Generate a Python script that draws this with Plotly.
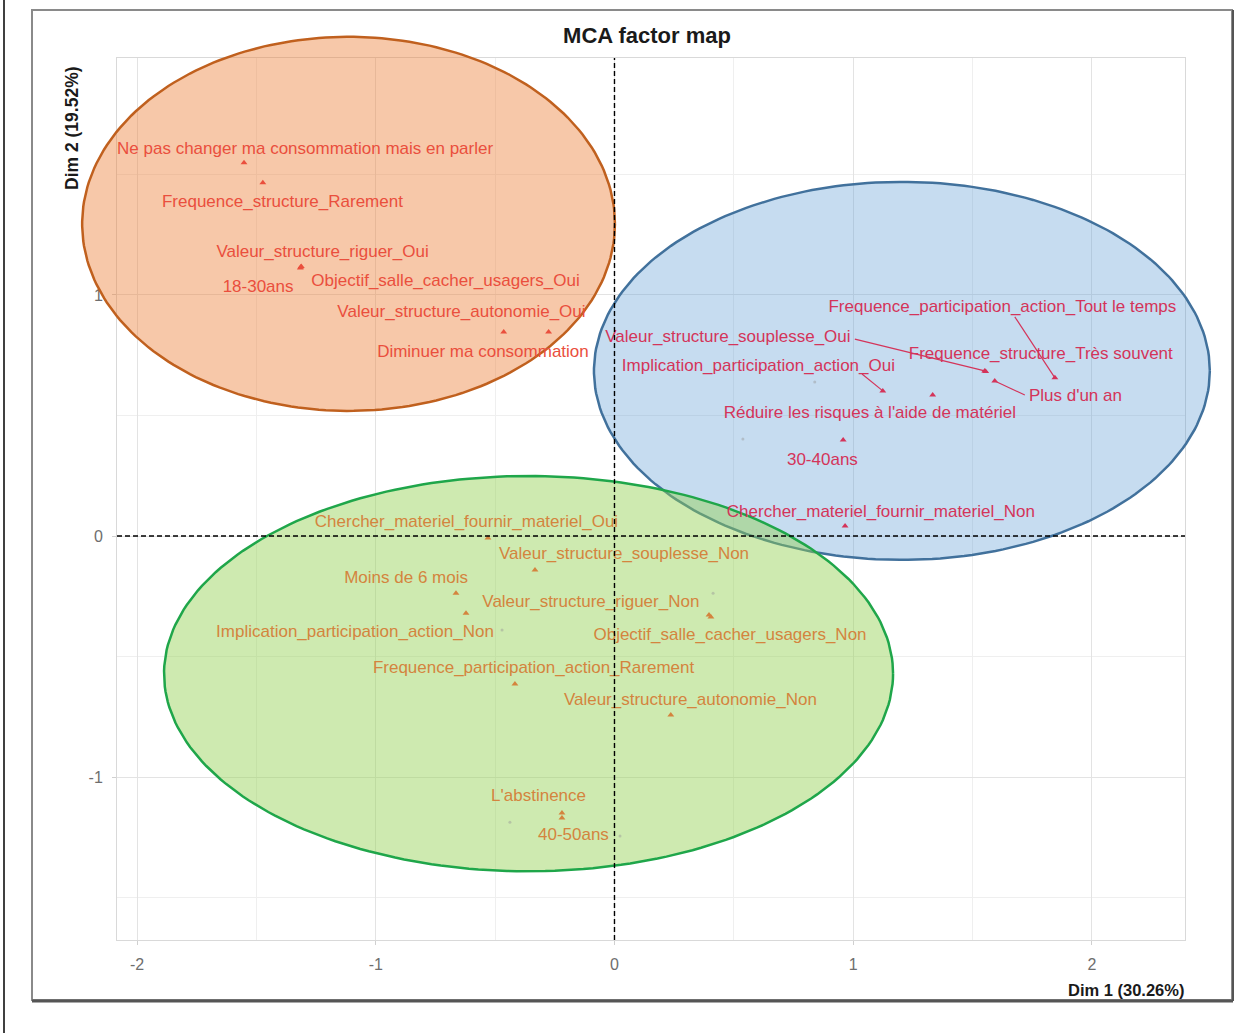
import numpy as np
import plotly.graph_objects as go

# --- données lues sur la carte factorielle (Dim 1, Dim 2) ---
# groupe orange
noms_orange = ["Ne pas changer ma consommation mais en parler", "Frequence_structure_Rarement",
               "Valeur_structure_riguer_Oui", "18-30ans", "Objectif_salle_cacher_usagers_Oui",
               "Valeur_structure_autonomie_Oui", "Diminuer ma consommation"]
x_orange = [-1.552, -1.473, -1.314, -1.316, -1.312, -0.464, -0.276]
y_orange = [1.548, 1.465, 1.116, 1.112, 1.118, 0.846, 0.846]
lx_orange = [-1.296, -1.391, -1.223, -1.493, -0.708, -0.641, -0.551]
ly_orange = [1.602, 1.382, 1.174, 1.029, 1.054, 0.925, 0.759]

# groupe bleu
noms_bleu = ["Frequence_participation_action_Tout le temps", "Valeur_structure_souplesse_Oui",
             "Frequence_structure_Très souvent", "Implication_participation_action_Oui", "Plus d'un an",
             "Réduire les risques à l'aide de matériel", "30-40ans", "Chercher_materiel_fournir_materiel_Non"]
x_bleu = [1.845, 1.551, 1.555, 1.124, 1.593, 1.333, 0.958, 0.966]
y_bleu = [0.656, 0.685, 0.682, 0.602, 0.643, 0.585, 0.398, 0.041]
lx_bleu = [1.625, 0.475, 1.786, 0.603, 1.931, 1.070, 0.871, 1.116]
ly_bleu = [0.946, 0.822, 0.751, 0.701, 0.577, 0.506, 0.311, 0.095]

# segments (ggrepel) : index du point, départ du segment près de l'étiquette
seg_idx = [0, 1, 3, 4]
seg_x0 = [1.677, 1.007, 1.037, 1.719]
seg_y0 = [0.909, 0.817, 0.672, 0.585]

# groupe vert
noms_vert = ["Chercher_materiel_fournir_materiel_Oui", "Valeur_structure_souplesse_Non", "Moins de 6 mois",
             "Valeur_structure_riguer_Non", "Implication_participation_action_Non",
             "Objectif_salle_cacher_usagers_Non", "Frequence_participation_action_Rarement",
             "Valeur_structure_autonomie_Non", "L'abstinence", "40-50ans"]
x_vert = [-0.530, -0.333, -0.664, 0.396, -0.622, 0.404, -0.417, 0.236, -0.220, -0.220]
y_vert = [-0.008, -0.141, -0.237, -0.328, -0.320, -0.336, -0.614, -0.743, -1.149, -1.170]
lx_vert = [-0.620, 0.040, -0.873, -0.099, -1.087, 0.484, -0.339, 0.318, -0.318, -0.172]
ly_vert = [0.054, -0.079, -0.178, -0.278, -0.402, -0.415, -0.552, -0.685, -1.083, -1.245]

# points pâles sans étiquette
x_pale = [0.839, 0.538, 0.413, -0.471, -0.438, 0.023]
y_pale = [0.639, 0.402, -0.237, -0.390, -1.187, -1.245]

# ellipses : centre et demi-axes
ell_cx = [-1.114, 1.204, -0.360]
ell_cy = [1.295, 0.685, -0.571]
ell_ax = [1.116, 1.290, 1.527]
ell_ay = [0.776, 0.784, 0.820]
ell_fill = ["rgba(237,125,49,0.42)", "rgba(91,155,213,0.35)", "rgba(146,208,80,0.45)"]
ell_line = ["#c0601e", "#41719c", "#1fa64a"]

x_ticks = [-2, -1, 0, 1, 2]
y_ticks = [-1, 0, 1]

col_orange = "#ea4f3d"
col_bleu = "#d4345a"
col_vert = "#d4843e"

W, H = 1247, 1033
x_range = [-2.084, 2.390]
y_range = [-1.676, 1.983]
x_dom = [117 / W, 1185 / W]
y_dom = [1 - 940 / H, 1 - 58 / H]

# axes de superposition (toute la figure) à la même échelle, pour que les ellipses débordent du panneau
ppx = (x_dom[1] - x_dom[0]) * W / (x_range[1] - x_range[0])
ppy = (y_dom[1] - y_dom[0]) * H / (y_range[1] - y_range[0])
x2_range = [x_range[0] - x_dom[0] * W / ppx, x_range[1] + (1 - x_dom[1]) * W / ppx]
y2_range = [y_range[0] - y_dom[0] * H / ppy, y_range[1] + (1 - y_dom[1]) * H / ppy]

fig = go.Figure()

# trace invisible pour afficher les axes principaux
fig.add_trace(go.Scatter(x=[0], y=[0], mode="markers", marker=dict(opacity=0), hoverinfo="skip",
                         showlegend=False, xaxis="x", yaxis="y"))

t = np.linspace(0, 2 * np.pi, 240)
for cx, cy, ax, ay, fc, lc in zip(ell_cx, ell_cy, ell_ax, ell_ay, ell_fill, ell_line):
    fig.add_trace(go.Scatter(
        x=cx + ax * np.cos(t), y=cy + ay * np.sin(t),
        mode="lines", fill="toself", fillcolor=fc,
        line=dict(color=lc, width=2.5), hoverinfo="skip", showlegend=False,
        xaxis="x2", yaxis="y2"))

# segments
for i, sx, sy in zip(seg_idx, seg_x0, seg_y0):
    fig.add_trace(go.Scatter(x=[sx, x_bleu[i]], y=[sy, y_bleu[i]], mode="lines",
                             line=dict(color=col_bleu, width=1.2), hoverinfo="skip",
                             showlegend=False, xaxis="x2", yaxis="y2"))

fig.add_trace(go.Scatter(x=x_pale, y=y_pale, mode="markers",
                         marker=dict(color="rgba(150,150,150,0.45)", size=3),
                         hoverinfo="skip", showlegend=False, xaxis="x2", yaxis="y2"))

for xs, ys, lxs, lys, noms, col in [
    (x_orange, y_orange, lx_orange, ly_orange, noms_orange, col_orange),
    (x_bleu, y_bleu, lx_bleu, ly_bleu, noms_bleu, col_bleu),
    (x_vert, y_vert, lx_vert, ly_vert, noms_vert, col_vert),
]:
    fig.add_trace(go.Scatter(x=xs, y=ys, mode="markers",
                             marker=dict(symbol="triangle-up", size=6, color=col),
                             text=noms, hoverinfo="text", showlegend=False,
                             xaxis="x2", yaxis="y2"))
    fig.add_trace(go.Scatter(x=lxs, y=lys, mode="text", text=noms,
                             textposition="middle center",
                             textfont=dict(family="Liberation Sans, Arial, sans-serif", size=17, color=col),
                             hoverinfo="skip", showlegend=False, xaxis="x2", yaxis="y2"))

# lignes pointillées en 0
fig.add_shape(type="line", xref="x", yref="y domain", x0=0, x1=0, y0=0, y1=1,
              line=dict(color="black", width=1.4, dash="5px,3px"), layer="above")
fig.add_shape(type="line", xref="x domain", yref="y", x0=0, x1=1, y0=0, y1=0,
              line=dict(color="black", width=1.4, dash="5px,3px"), layer="above")

# cadre extérieur
fig.add_shape(type="rect", xref="paper", yref="paper", x0=32 / W, x1=1232 / W,
              y0=1 - 1000 / H, y1=1 - 10 / H, line=dict(color="#8a8a8a", width=2))
fig.add_shape(type="line", xref="paper", yref="paper", x0=32 / W, x1=1233 / W,
              y0=1 - 1001 / H, y1=1 - 1001 / H, line=dict(color="#555555", width=3))
fig.add_shape(type="line", xref="paper", yref="paper", x0=1233 / W, x1=1233 / W,
              y0=1 - 1001 / H, y1=1 - 10 / H, line=dict(color="#555555", width=2))
fig.add_shape(type="line", xref="paper", yref="paper", x0=4 / W, x1=4 / W,
              y0=0, y1=1, line=dict(color="black", width=1.5))

tickfont = dict(family="Liberation Sans, Arial, sans-serif", size=16, color="#6e6e6e")
grid_common = dict(showgrid=True, gridcolor="#e3e3e3", gridwidth=1.2,
                   minor=dict(showgrid=True, gridcolor="#efefef", gridwidth=0.8, dtick=0.5),
                   zeroline=False, showline=True, linecolor="#d9d9d9", linewidth=1, mirror=True,
                   ticks="outside", ticklen=4, tickcolor="#d0d0d0", tickfont=tickfont,
                   ticklabelstandoff=6)

fig.update_layout(
    width=W, height=H,
    margin=dict(l=0, r=0, t=0, b=0),
    paper_bgcolor="white", plot_bgcolor="rgba(0,0,0,0)",
    showlegend=False,
    title=dict(text="<b>MCA factor map</b>", x=647 / W, xanchor="center", y=1 - 35 / H, yanchor="middle",
               font=dict(family="Liberation Sans, Arial, sans-serif", size=22, color="#1a1a1a")),
    xaxis=dict(domain=x_dom, range=x_range, tickvals=x_ticks, ticktext=[str(v) for v in x_ticks],
               automargin=False, **grid_common),
    yaxis=dict(domain=y_dom, range=y_range, tickvals=y_ticks, ticktext=[str(v) for v in y_ticks],
               automargin=False, **grid_common),
    xaxis2=dict(domain=[0, 1], range=x2_range, visible=False, anchor="y2"),
    yaxis2=dict(domain=[0, 1], range=y2_range, visible=False, anchor="x2"),
    annotations=[
        dict(text="<b>Dim 1 (30.26%)</b>", xref="paper", yref="paper", x=1186 / W, y=1 - 990 / H,
             xanchor="right", yanchor="middle", showarrow=False,
             font=dict(family="Liberation Sans, Arial, sans-serif", size=16.5, color="#1a1a1a")),
        dict(text="<b>Dim 2 (19.52%)</b>", xref="paper", yref="paper", x=72 / W, y=1 - 128 / H,
             xanchor="center", yanchor="middle", textangle=-90, showarrow=False,
             font=dict(family="Liberation Sans, Arial, sans-serif", size=17.5, color="#1a1a1a")),
    ],
)

fig.write_html("out.html", config={"displayModeBar": False},
               post_script="document.body.style.margin='0px';")
